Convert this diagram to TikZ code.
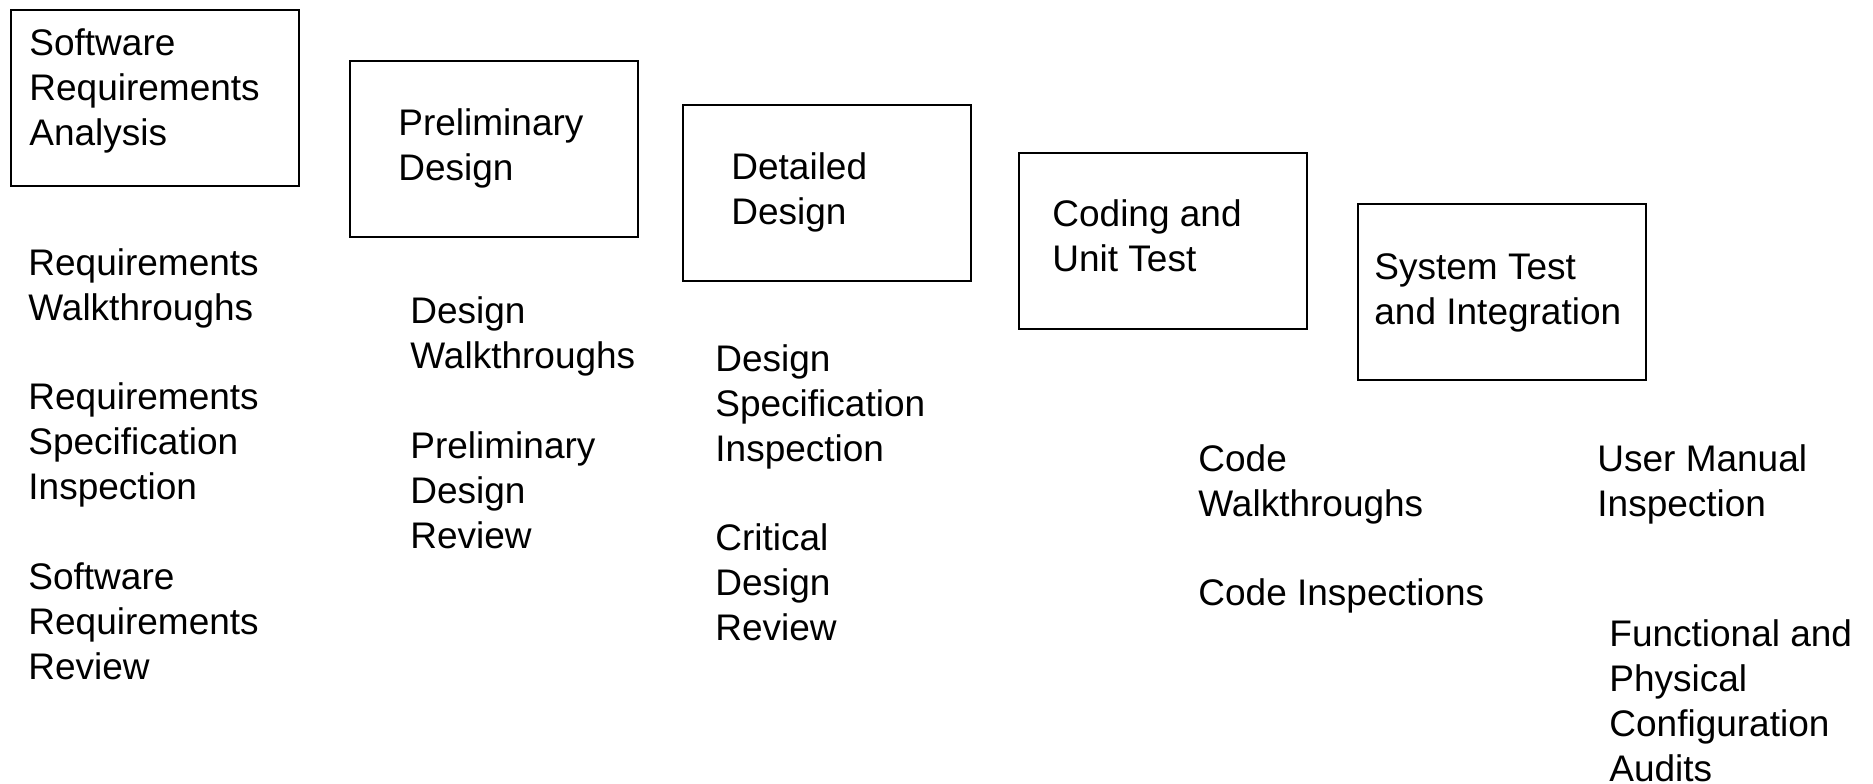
\documentclass[tikz,border=0pt]{standalone}
\usepackage{fontspec}
\setmainfont{Liberation Sans}
\begin{document}
\begin{tikzpicture}[x=0.5pt,y=-0.5pt,
  box/.style={draw=black, line width=1pt, minimum width=144pt, minimum height=88pt, inner sep=0pt, anchor=north west},
  txt/.style={inner sep=0pt, anchor=base west, align=left, font={\fontsize{18.5}{22.5}\selectfont}}]
\useasboundingbox (0,0) rectangle (1873,783);
% stage boxes
\node[box] (b1) at (9.5,8.5) {};
\node[box] (b2) at (348.5,59.5) {};
\node[box] (b3) at (681.5,104) {};
\node[box] (b4) at (1018,152) {};
\node[box] (b5) at (1357,203) {};
% box texts (anchored at the baseline of the last line)
\node[txt] (t1) at (29,145) {Software\\Requirements\\Analysis};
\node[txt] (t2) at (398,180) {Preliminary\\Design};
\node[txt] (t3) at (731,224.5) {Detailed\\Design};
\node[txt] (t4) at (1052,271.5) {Coding and\\Unit Test};
\node[txt] (t5) at (1374,324.5) {System Test\\and Integration};
% activities
\node[txt] (a1) at (28,320) {Requirements\\Walkthroughs};
\node[txt] (a2) at (28,499.5) {Requirements\\Specification\\Inspection};
\node[txt] (a3) at (28,679.5) {Software\\Requirements\\Review};
\node[txt] (a4) at (410,368.5) {Design\\Walkthroughs};
\node[txt] (a5) at (410,548.5) {Preliminary\\Design\\Review};
\node[txt] (a6) at (715,461.5) {Design\\Specification\\Inspection};
\node[txt] (a7) at (715,640) {Critical\\Design\\Review};
\node[txt] (a8) at (1198,516) {Code\\Walkthroughs};
\node[txt] (a9) at (1198,605) {Code Inspections};
\node[txt] (a10) at (1597,516) {User Manual\\Inspection};
\node[txt] (a11) at (1609,781.5) {Functional and\\Physical\\Configuration\\Audits};
\end{tikzpicture}
\end{document}
